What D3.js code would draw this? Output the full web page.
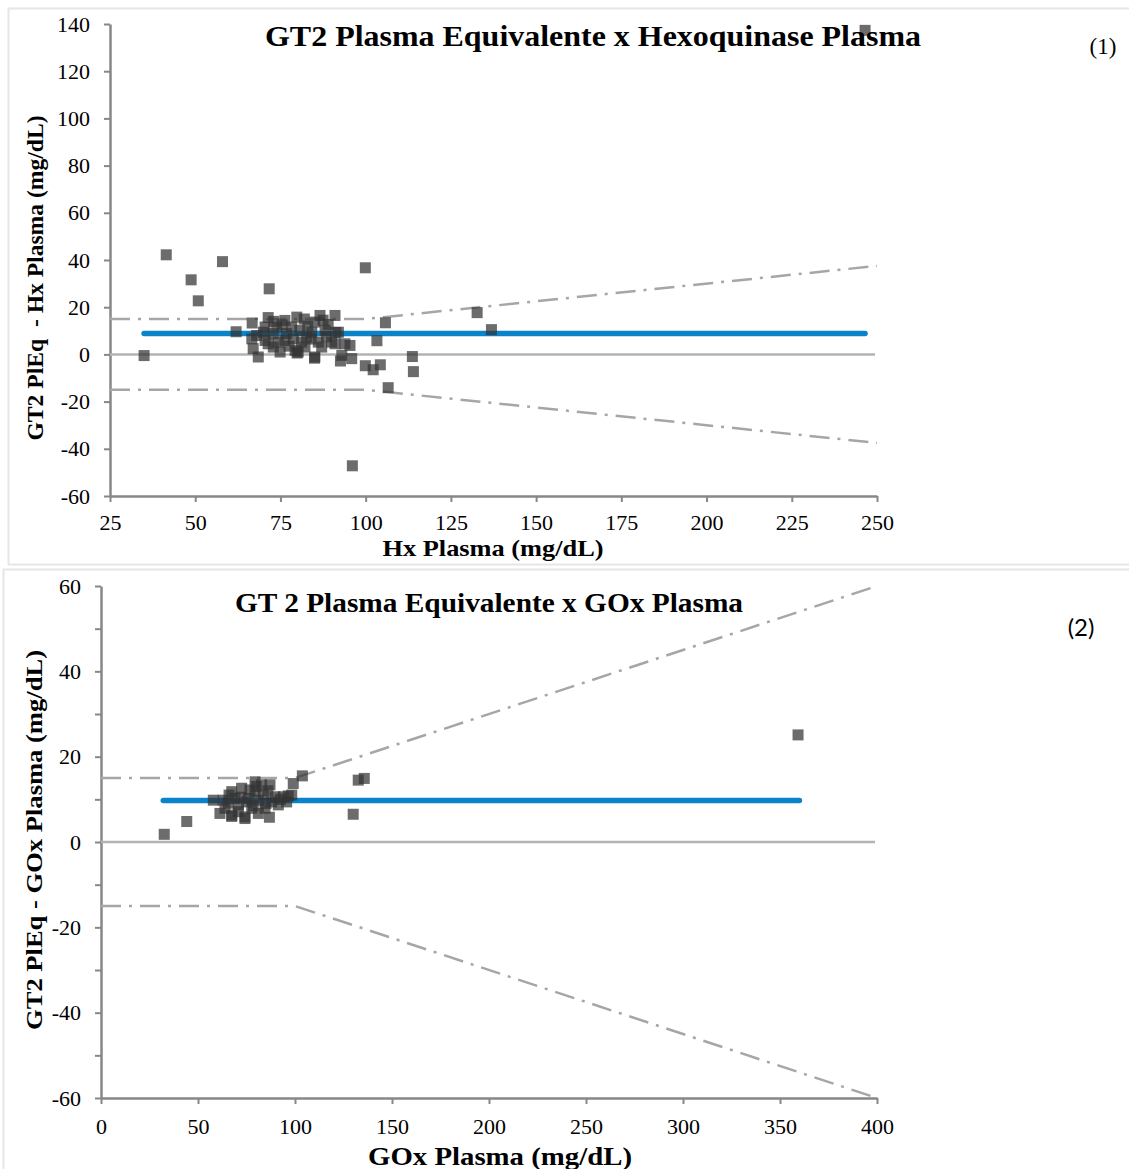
<!DOCTYPE html>
<html>
<head>
<meta charset="utf-8">
<script src="https://cdn.jsdelivr.net/npm/d3@7"></script>
<style>
body { margin: 0; background: #fff; }
svg { display: block; }
</style>
</head>
<body>
<svg width="1129" height="1169" font-family="Liberation Serif, Times New Roman, serif"></svg>
<script>
// chart 1: GT2 vs Hexoquinase
var hxTicksX = [25, 50, 75, 100, 125, 150, 175, 200, 225, 250];
var hxTicksY = [-60, -40, -20, 0, 20, 40, 60, 80, 100, 120, 140];
var hxPoints = [
	[35, -0.5], [41.5, 42.2], [48.8, 31.6], [50.9, 22.7], [58, 39.3], [62, 9.6], [71.7, 27.8],
	[99.9, 36.7], [96.1, -47.2], [105.8, 13.4], [103.3, 5.8], [106.6, -14.1], [113.7, -0.9],
	[114, -7.3], [132.7, 17.7], [136.9, 10.5], [99.9, -4.8], [102.2, -6.5], [104.3, -4.4],
	[92.6, -2.8], [246.5, 137.3],
	[66.7, 13.3], [71.4, 15.6], [76.3, 14.4], [79.8, 15.8], [86.6, 16.5], [91.0, 16.5],
	[85.1, 13.7], [89.0, 12.7], [70.5, 11.6], [73.9, 11.6], [78.3, 11.6], [66.6, 6.6],
	[70.5, 5.9], [74.4, 5.2], [78.8, 6.6], [82.7, 7.3], [86.1, 5.2], [90.0, 5.2], [93.9, 4.5],
	[67.0, 2.4], [68.5, -1.1], [72.9, 3.1], [74.9, 1.0], [79.3, 1.7], [82.2, 3.1], [85.1, -1.1],
	[87.1, 3.1], [91.0, 4.5], [95.4, 3.8], [93.0, -0.4], [95.9, -1.8], [70.0, 9.4], [72.9, 8.8],
	[76.8, 8.8], [80.7, 10.2], [84.2, 9.4], [88.1, 10.2], [92.0, 9.4], [80.2, 1.0], [71.4, 4.5],
	[81.2, 5.2], [76.3, 5.9], [79.9, 0.6], [85.0, -1.6], [91.2, 9.3], [75.5, 12.5], [83.0, 12.0],
	[68.0, 8.0], [77.5, 3.5], [84.0, 6.5], [88.5, 7.5], [73.0, 14.0], [82.0, 15.0], [87.5, 14.5]
];
var hxMean = [[35, 8.9], [246.5, 8.9]];
var hxUpper = [[25, 15], [100, 15], [250, 37.5]];
var hxLower = [[25, -15], [100, -15], [250, -37.5]];

// chart 2: GT2 vs GOx
var goxTicksX = [0, 50, 100, 150, 200, 250, 300, 350, 400];
var goxTicksY = [-60, -40, -20, 0, 20, 40, 60];
var goxMinorY = [-50, -30, -10, 10, 30, 50];
var goxPoints = [
	[32.6, 1.8], [44.2, 4.8], [57.9, 9.8], [103.8, 15.5], [99.1, 13.7], [132.6, 14.5],
	[135.7, 14.9], [130, 6.5], [359.3, 25.1],
	[63.0, 9.8], [61.3, 6.7], [67.4, 11.8], [67.4, 6.3], [74.2, 5.5], [79.4, 14.1], [87.1, 13.4],
	[86.8, 5.8], [81.1, 6.7], [70.8, 8.7], [75.9, 10.2], [79.4, 11.8], [83.7, 11.0], [89.7, 10.6],
	[94.0, 10.6], [98.3, 11.0], [72.5, 12.6], [65.6, 9.1], [69.1, 10.2], [77.7, 7.9], [84.5, 7.9],
	[70.8, 7.1], [63.9, 7.9], [91.4, 8.7], [95.7, 9.4], [88.0, 9.4], [81.1, 9.8], [75.1, 9.4],
	[76.8, 12.2], [82.8, 13.4], [67.4, 6.0], [74.2, 5.9], [86.0, 12.0], [92.5, 10.0], [96.5, 10.8],
	[72.0, 10.5], [78.5, 8.5], [66.0, 11.0], [85.0, 9.0], [80.0, 13.0]
];
var goxMean = [[32.1, 9.7], [360, 9.7]];
var goxUpper = [[0, 15], [100, 15], [400, 60]];
var goxLower = [[0, -15], [100, -15], [400, -60]];

var svg = d3.select("svg");
var axisColor = "#878787";

// light frames around each chart
svg.append("rect").attr("x", 8.5).attr("y", 8.5).attr("width", 1125).attr("height", 556)
	.attr("fill", "none").attr("stroke", "#e6e6e6").attr("stroke-width", 2);
svg.append("rect").attr("x", 3.5).attr("y", 569.5).attr("width", 1130).attr("height", 610)
	.attr("fill", "none").attr("stroke", "#e6e6e6").attr("stroke-width", 2);

function plain(d) { return String(d); }

//adds a bold label, stretched to the width it has in the picture
function label(g, t, x, y, size, len, rotate)
{
	var el = g.append("text")
		.attr("text-anchor", "middle").attr("font-weight", "bold").attr("font-size", size)
		.attr("textLength", len).attr("lengthAdjust", "spacingAndGlyphs")
		.attr("xml:space", "preserve")
		.text(t);
	if (rotate)
		el.attr("transform", "translate(" + x + "," + y + ") rotate(-90)");
	else
		el.attr("x", x).attr("y", y);
}

function drawChart(opt)
{
	var g = svg.append("g");
	var x = d3.scaleLinear().domain(opt.xDomain).range(opt.xRange);
	var y = d3.scaleLinear().domain(opt.yDomain).range(opt.yRange);

	// y axis
	g.append("g")
		.attr("transform", "translate(" + opt.xRange[0] + ",0)")
		.call(d3.axisLeft(y).tickValues(opt.yTicks).tickFormat(plain).tickSize(6).tickSizeOuter(0).tickPadding(14));
	if (opt.yMinor)
	{
		g.append("g")
			.attr("transform", "translate(" + opt.xRange[0] + ",0)")
			.call(d3.axisLeft(y).tickValues(opt.yMinor).tickSize(6).tickFormat(""))
			.call(function(a) { a.select(".domain").remove(); });
	}
	// x axis
	var xa = g.append("g")
		.attr("transform", "translate(0," + opt.yRange[0] + ")")
		.call(d3.axisBottom(x).tickValues(opt.xTicks).tickFormat(plain).tickSize(6).tickSizeOuter(0).tickPadding(opt.xPad));

	g.selectAll(".domain").attr("stroke", axisColor).attr("stroke-width", 2.5);
	g.selectAll(".tick line").attr("stroke", axisColor).attr("stroke-width", 2);
	g.selectAll(".tick text").attr("font-family", "Liberation Serif").attr("font-size", 22).attr("fill", "#000");

	// zero line
	g.append("line")
		.attr("x1", x(opt.xDomain[0])).attr("x2", x(opt.xDomain[1]) - 2)
		.attr("y1", y(0)).attr("y2", y(0))
		.attr("stroke", "#b3b3b3").attr("stroke-width", 2.5);

	var line = d3.line().x(function(d) { return x(d[0]); }).y(function(d) { return y(d[1]); });

	// limit lines, dash-dot
	[opt.upper, opt.lower].forEach(function(l)
	{
		g.append("path").attr("d", line(l))
			.attr("fill", "none").attr("stroke", "#a6a6a6").attr("stroke-width", 2.5)
			.attr("stroke-dasharray", "20,8,3,8");
	});

	// mean line
	g.append("path").attr("d", line(opt.mean))
		.attr("fill", "none").attr("stroke", "#0a83cb").attr("stroke-width", 5.5)
		.attr("stroke-linecap", "round");

	// points
	g.selectAll("rect.pt").data(opt.points).enter().append("rect")
		.attr("class", "pt")
		.attr("x", function(d) { return x(d[0]) - 5.5; })
		.attr("y", function(d) { return y(d[1]) - 5.5; })
		.attr("width", 11).attr("height", 11)
		.attr("fill", "#333").attr("fill-opacity", 0.72);

	// titles
	label(g, opt.title[0], opt.title[1], opt.title[2], opt.title[3], opt.title[4]);
	label(g, opt.xTitle[0], opt.xTitle[1], opt.xTitle[2], opt.xTitle[3], opt.xTitle[4]);
	label(g, opt.yTitle[0], opt.yTitle[1], opt.yTitle[2], opt.yTitle[3], opt.yTitle[4], true);
}

drawChart({
	xDomain: [25, 250], xRange: [110, 877],
	yDomain: [-60, 140], yRange: [496, 24],
	xTicks: hxTicksX, yTicks: hxTicksY, xPad: 12,
	points: hxPoints, mean: hxMean, upper: hxUpper, lower: hxLower,
	title: ["GT2 Plasma Equivalente x Hexoquinase Plasma", 593, 46, 30, 656],
	xTitle: ["Hx Plasma (mg/dL)", 493, 556, 23, 221],
	yTitle: ["GT2 PlEq  - Hx Plasma (mg/dL)", 43, 278, 23, 325]
});

drawChart({
	xDomain: [0, 400], xRange: [101, 877],
	yDomain: [-60, 60], yRange: [1098, 586],
	xTicks: goxTicksX, yTicks: goxTicksY, yMinor: goxMinorY, xPad: 14,
	points: goxPoints, mean: goxMean, upper: goxUpper, lower: goxLower,
	title: ["GT 2 Plasma Equivalente x GOx Plasma", 489, 612, 28, 508],
	xTitle: ["GOx Plasma (mg/dL)", 500, 1165, 25, 264],
	yTitle: ["GT2 PlEq - GOx Plasma (mg/dL)", 42, 840, 24, 380]
});

svg.append("text").attr("x", 1103).attr("y", 54).attr("text-anchor", "middle")
	.attr("font-size", 23).text("(1)");
svg.append("text").attr("x", 1081).attr("y", 636).attr("text-anchor", "middle")
	.attr("font-family", "Lato").attr("font-size", 24).text("(2)");
</script>
</body>
</html>
